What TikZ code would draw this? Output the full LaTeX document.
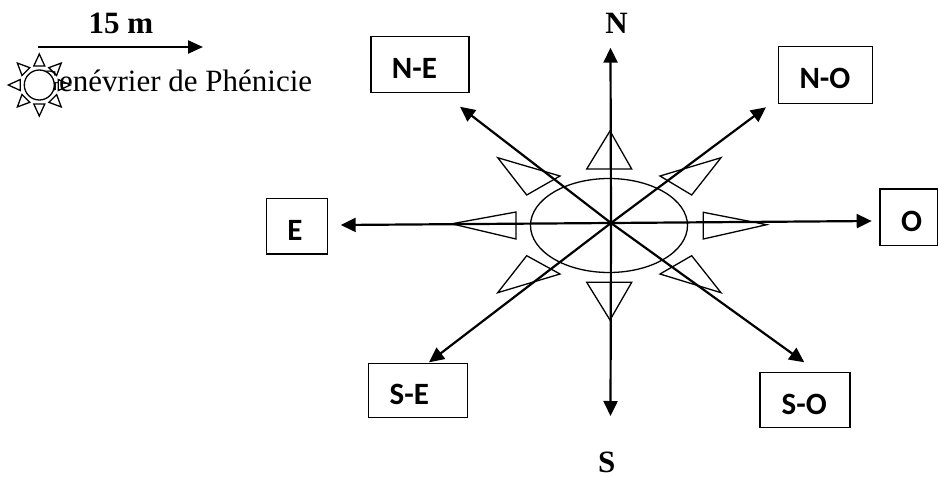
\documentclass[tikz,border=0pt]{standalone}
\usepackage{fontspec}
\setmainfont{Liberation Serif}
\newfontfamily\boxfont{Carlito}
\usetikzlibrary{arrows.meta}
\begin{document}
\begin{tikzpicture}[x=1pt,y=-1pt,
  arr/.style={line width=2.2pt,-{Triangle[length=15pt,width=14pt]}},
  outl/.style={line width=1.3pt,line join=miter},
  dirbox/.style={draw,line width=1.5pt,inner sep=0pt},
  dirlabel/.style={font=\boxfont\bfseries\fontsize{31}{31}\selectfont,inner sep=0pt},
  serif/.style={font=\fontsize{31}{31}\selectfont,inner sep=0pt},
  serifbold/.style={font=\bfseries\fontsize{31}{31}\selectfont,inner sep=0pt}
]
\useasboundingbox (0,0) rectangle (938,477);

% legend: scale arrow and species
\node[serifbold,anchor=base] (scale) at (120.8,33.3) {15 m};
\coordinate (sa) at (38,47);
\coordinate (sb) at (203,47);
\draw[line width=2.2pt,-{Triangle[length=15pt,width=13pt]}] (sa) -- (sb);
\node[serif,anchor=base west] (species) at (36.5,91.7) {Genévrier de Phénicie};
\foreach \a in {0,45,...,315}
  \draw[outl,shift={(39.3,85)},rotate=\a] (31,0) -- (19,5.5) -- (19,-5.5) -- cycle;
\node[circle,draw,fill=white,minimum size=30pt,inner sep=0pt,line width=1.3pt] (sun) at (39.3,85) {};

% compass
\coordinate (C) at (611,223);
\draw[outl] (609,225.5) ellipse [x radius=78.5,y radius=47];
\coordinate (tN) at (610.5,47.7);
\coordinate (tS) at (610.5,416);
\coordinate (tE) at (340.7,225);
\coordinate (tO) at (871.7,221);
\coordinate (tNE) at (460,106.7);
\coordinate (tNO) at (766,107.3);
\coordinate (tSE) at (429,362.3);
\coordinate (tSO) at (804.3,362.3);
\foreach \t in {tN,tS,tE,tO,tNE,tNO,tSE,tSO}
  \draw[arr] (C) -- (\t);

% inner triangles
\draw[outl] (610,131) -- (586.7,169) -- (631.7,169) -- cycle;
\draw[outl] (610,320) -- (586.7,282.3) -- (631.7,282.3) -- cycle;
\draw[outl] (451.7,223.8) -- (516,212) -- (516,239) -- cycle;
\draw[outl] (766.7,224.7) -- (703.3,212.3) -- (703.3,239) -- cycle;
\draw[outl] (497.7,157.7) -- (560,176) -- (526.7,195) -- cycle;
\draw[outl] (721,157.7) -- (660,176) -- (691.7,195) -- cycle;
\draw[outl] (497.7,292.7) -- (526.7,255.7) -- (560,274) -- cycle;
\draw[outl] (721,292.7) -- (691.7,255.7) -- (660,274) -- cycle;

% cardinal letters
\node[serifbold,anchor=base] (Nl) at (616.5,33.3) {N};
\node[serifbold,anchor=base] (Sl) at (606.7,472) {S};

% direction boxes
\node[dirbox,minimum width=98pt,minimum height=56pt] (NEbox) at (420,64.7) {};
\node[dirlabel] (NElab) at (414.5,68.3) {N-E};
\node[dirbox,minimum width=94pt,minimum height=57pt] (NObox) at (825.5,75) {};
\node[dirlabel] (NOlab) at (825,78.3) {N-O};
\node[dirbox,minimum width=99pt,minimum height=54pt] (SEbox) at (417.8,390.3) {};
\node[dirlabel] (SElab) at (409.3,394.2) {S-E};
\node[dirbox,minimum width=90pt,minimum height=54.7pt] (SObox) at (805,400) {};
\node[dirlabel] (SOlab) at (804.2,404.2) {S-O};
\node[dirbox,minimum width=61pt,minimum height=55.7pt] (Ebox) at (297.2,226.2) {};
\node[dirlabel] (Elab) at (295,230) {E};
\node[dirbox,minimum width=58pt,minimum height=56.7pt] (Obox) at (909,217.3) {};
\node[dirlabel] (Olab) at (911.7,221.7) {O};
\end{tikzpicture}
\end{document}
